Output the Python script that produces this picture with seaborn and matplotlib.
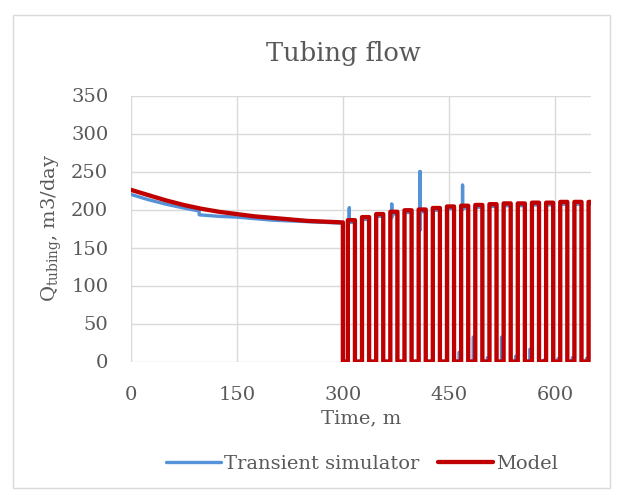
import matplotlib
matplotlib.use("Agg")
import matplotlib.pyplot as plt
import pandas as pd
import seaborn as sns
from matplotlib.lines import Line2D
from matplotlib.patches import Rectangle

# Natural decline before the cycling starts (time in minutes, flow in m3/day)
decay_time = [0, 25, 50, 75, 100, 125, 150, 175, 200, 225, 250, 275, 300]
model_decay = [226, 219, 212, 206, 201, 197, 194, 191, 189, 187, 185, 184, 183]
sim_decay_time = [0, 25, 50, 75, 97, 97, 125, 150, 175, 200, 225, 250, 275, 300]
sim_decay = [220, 213, 207, 202, 198, 193, 191, 190, 188, 186, 185, 184, 183, 182]

# Shut-in time and valve cycling (opening times, open period)
shut_in_time = 300
cycle_start = [307, 327, 347, 367, 387, 407, 427, 447, 467,
               487, 507, 527, 547, 567, 587, 607, 627, 647]
open_minutes = 10
model_peak = [186, 190, 194, 197, 199, 200, 202, 204, 205,
              206, 207, 208, 208, 209, 209, 210, 210, 210]
sim_peak = [183, 187, 191, 194, 196, 197, 199, 201, 202,
            203, 204, 205, 205, 206, 206, 207, 207, 207]

# Simulator overshoot right after opening (cycle index, low, high)
overshoot_cycle = [0, 3, 5, 8]
overshoot_low = [183, 190, 173, 200]
overshoot_high = [202, 207, 250, 232]

# Simulator flow just before opening
leak_flow = [0, 0, 0, 0, 0, 0, 0, 0, 12, 32, 5, 32, 7, 16, 2, 4, 5, 4]

t_end = 650


def model_curve():
    t, q = list(decay_time), list(model_decay)
    t.append(shut_in_time)
    q.append(0)
    for s, top in zip(cycle_start, model_peak):
        e = min(s + open_minutes, t_end)
        t += [s, s, e]
        q += [0, top, top]
        if s + open_minutes <= t_end:
            t.append(e)
            q.append(0)
    return t, q


def sim_curve():
    t, q = list(sim_decay_time), list(sim_decay)
    t.append(shut_in_time)
    q.append(0)
    over = {c: (lo, hi) for c, lo, hi in zip(overshoot_cycle, overshoot_low, overshoot_high)}
    for k, (s, top) in enumerate(zip(cycle_start, sim_peak)):
        base = leak_flow[k]
        if base > 0:
            t += [s - 3, s - 3]
            q += [0, base]
        t += [s, s]
        q += [base, top]
        if k in over:
            lo, hi = over[k]
            t += [s + 2, s + 2, s + 2, s + 2]
            q += [top, lo, hi, top]
        e = min(s + open_minutes, t_end)
        t.append(e)
        q.append(top)
        if s + open_minutes <= t_end:
            t.append(e)
            q.append(0)
    return t, q


mt, mq = model_curve()
st, sq = sim_curve()
df = pd.concat([
    pd.DataFrame({"time": st, "flow": sq, "series": "Transient simulator"}),
    pd.DataFrame({"time": mt, "flow": mq, "series": "Model"}),
], ignore_index=True)

sns.set_theme(style="white")
plt.rcParams["font.family"] = ["DejaVu Serif"]
plt.rcParams["mathtext.fontset"] = "dejavuserif"

text_color = "#595959"
grid_color = "#D9D9D9"
colors = {"Transient simulator": "#5592D8", "Model": "#C00000"}
widths = {"Transient simulator": 2.4, "Model": 3.1}

W, H = 623, 495
fig = plt.figure(figsize=(W / 100, H / 100), dpi=100)
fig.patch.set_facecolor("white")
fig.add_artist(Rectangle((13 / W, 1 - 488 / H), (610 - 13) / W, (488 - 15) / H,
                         transform=fig.transFigure, fill=False,
                         edgecolor=grid_color, lw=1))

ax = fig.add_axes([130.5 / W, 1 - 361.5 / H, 460.2 / W, 266 / H])
sns.lineplot(data=df, x="time", y="flow", hue="series",
             hue_order=["Transient simulator", "Model"], palette=colors,
             estimator=None, sort=False, legend=False, ax=ax)
for line, name in zip(ax.lines, ["Transient simulator", "Model"]):
    line.set_linewidth(widths[name])
    line.set_solid_joinstyle("round")

ax.set_xlim(0, 650)
ax.set_ylim(0, 350)
ax.set_xticks([0, 150, 300, 450, 600])
ax.set_yticks(range(0, 351, 50))
ax.grid(True, color=grid_color, lw=1)
ax.set_axisbelow(True)
for sp in ax.spines.values():
    sp.set_visible(False)
ax.tick_params(axis="both", length=0, labelsize=14, colors=text_color)
ax.tick_params(axis="y", pad=16)
ax.tick_params(axis="x", pad=18)
ax.set_xlabel("")
ax.set_ylabel("")

fig.text(343 / W, 1 - 53 / H, "Tubing flow", ha="center", va="center",
         fontsize=18.5, color=text_color)
fig.text(361 / W, 1 - 418 / H, "Time, m", ha="center", va="center",
         fontsize=14, color=text_color)
fig.text(52 / W, 1 - 227.5 / H, r"Q$_{\mathrm{tubing}}$, m3/day", ha="center",
         va="center", rotation=90, fontsize=14, color=text_color)

handles = [Line2D([], [], color=colors[n], lw=widths[n]) for n in colors]
fig.legend(handles, list(colors), loc="center", bbox_to_anchor=(362 / W, 1 - 464 / H),
           ncol=2, frameon=False, fontsize=14, labelcolor=text_color,
           handlelength=2.8, handletextpad=0.15, columnspacing=1.0)

fig.savefig("out.png", dpi=100, facecolor="white")
